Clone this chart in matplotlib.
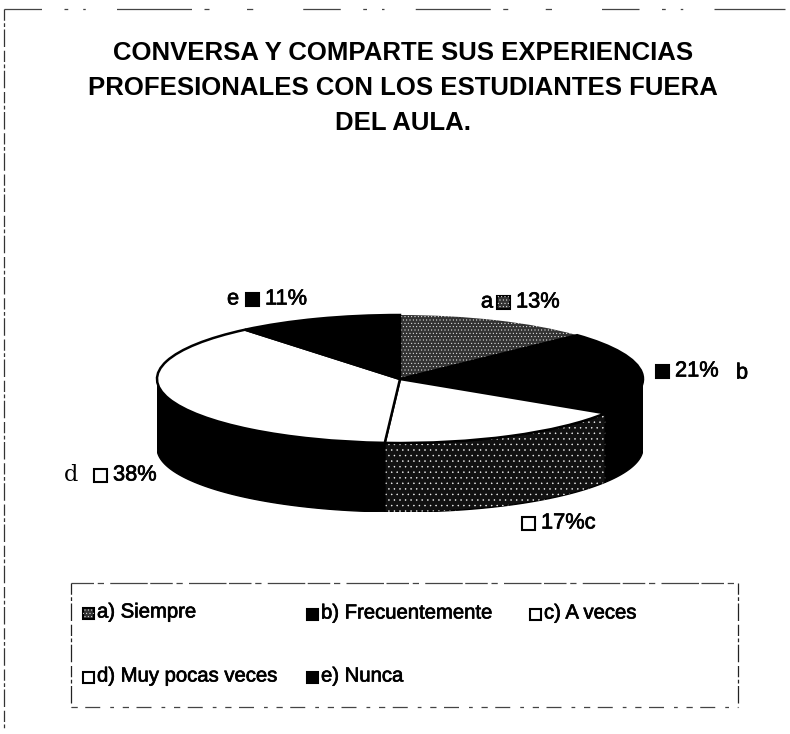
import matplotlib
matplotlib.use("Agg")
import matplotlib.pyplot as plt
import matplotlib.patheffects as pe
import numpy as np
from matplotlib.patches import Polygon, Rectangle

plt.rcParams['font.family'] = ['Liberation Sans', 'DejaVu Sans']
plt.rcParams['hatch.linewidth'] = 0.3

title_lines = ["CONVERSA Y COMPARTE SUS EXPERIENCIAS",
               "PROFESIONALES CON LOS ESTUDIANTES FUERA",
               "DEL AULA."]
valores = [13, 21, 17, 38, 11]
leyenda = ["a) Siempre", "b) Frecuentemente", "c) A veces", "d) Muy pocas veces", "e) Nunca"]
colores_top = ["#333333", "black", "white", "white", "black"]
colores_lado = ["black", "black", "#111111", "black", "black"]

W, H = 790, 734
fig = plt.figure(figsize=(W / 100, H / 100), dpi=100)

# trazo extra para que el texto pese como en el scan
grueso = [pe.withStroke(linewidth=0.5, foreground="black")]

# eje de fondo en pixeles para textos y marcos
bg = fig.add_axes([0, 0, 1, 1])
bg.set_xlim(0, W)
bg.set_ylim(H, 0)
bg.axis("off")

# pastel: elipse rx=243 ry=64 con profundidad 69 px
cx, cy, rx, ry, prof = 400, 379, 243, 64, 69
ax = fig.add_axes([(cx - rx) / W, 1 - (cy + ry + prof) / H, 2 * rx / W, (2 * ry + prof) / H])
ax.patch.set_alpha(0)

# lado del cilindro, solo la parte de adelante
acum = np.cumsum([0] + valores) / sum(valores) * 360
d = prof / ry
for i in range(len(valores)):
    ini = max(acum[i], 90)
    fin = min(acum[i + 1], 270)
    if fin <= ini:
        continue
    th = np.radians(np.linspace(ini, fin, 60))
    xs = np.sin(th)
    ys = np.cos(th)
    pts = np.column_stack([np.r_[xs, xs[::-1]], np.r_[ys, ys[::-1] - d]])
    ax.add_patch(Polygon(pts, closed=True, facecolor=colores_lado[i], edgecolor="black", lw=1))
    if i == 2:
        ax.add_patch(Polygon(pts, closed=True, facecolor="none", edgecolor="white", lw=0, hatch="..."))

wedges, _ = ax.pie(valores, startangle=90, counterclock=False, colors=colores_top,
                   radius=1, wedgeprops={"edgecolor": "black", "linewidth": 1.8})
wedges[0].set_edgecolor("white")
wedges[0].set_linewidth(0)
wedges[0].set_hatch(".....")
ax.set_aspect("auto")
ax.set_xlim(-1, 1)
ax.set_ylim(-1 - d, 1)
ax.axis("off")

# titulo
for linea, y in zip(title_lines, [53, 88, 123]):
    bg.text(403, y, linea, ha="center", va="center", fontsize=18.5, fontweight="bold", color="black")


def cuadro(x, y, color, hatch=None, size=13):
    bg.add_patch(Rectangle((x - size / 2, y - size / 2), size, size, facecolor=color,
                           edgecolor="black", lw=1.5))
    if hatch:
        bg.add_patch(Rectangle((x - size / 2, y - size / 2), size, size, facecolor="none",
                               edgecolor="white", lw=0, hatch=hatch))


# etiquetas de datos
etiq_pos = [(503, 302), (662, 371), (528, 523), (100, 475), (252, 299)]
for i, (x, y) in enumerate(etiq_pos):
    cuadro(x, y, colores_top[i], "....." if i == 0 else None)
    txt = f"{valores[i]}%"
    if i == 2:
        txt += "c"
    bg.text(x + 13, y, txt, ha="left", va="center", fontsize=15.7, path_effects=grueso)
bg.text(487, 302, "a", ha="center", va="center", fontsize=15.7, path_effects=grueso)
bg.text(742, 373, "b", ha="center", va="center", fontsize=15.7, path_effects=grueso)
bg.text(233, 299, "e", ha="center", va="center", fontsize=15.7, path_effects=grueso)
bg.text(71, 475, "d", ha="center", va="center", fontsize=16, family=['DejaVu Serif'])

# leyenda
ley_pos = [(88, 613), (312, 614), (535, 614), (88, 677), (312, 677)]
for i, (x, y) in enumerate(ley_pos):
    cuadro(x, y, colores_top[i], "....." if i == 0 else None, size=11)
    bg.text(x + 9, y - 1, leyenda[i], ha="left", va="center", fontsize=14.6, path_effects=grueso)

# marcos del scan, con trazos cortados
dash = (0, (9, 2, 3, 2, 14, 3))
bg.plot([4, 785], [9, 9], color="#444444", lw=0.9, ls=(0, (30, 18, 3, 12, 2, 25, 60, 10, 4, 30, 5, 40)))
bg.plot([4, 4], [9, 728], color="#333333", lw=0.9, ls=dash)
bg.plot([71, 738], [583, 583], color="#444444", lw=0.9, ls=(0, (18, 3, 5, 5, 30, 2)))
bg.plot([71, 738], [707, 707], color="#444444", lw=0.9, ls=(0, (5, 6, 12, 8, 3, 7)))
bg.plot([71, 71], [583, 707], color="#222222", lw=0.9, ls=dash)
bg.plot([738, 738], [583, 707], color="#222222", lw=0.9, ls=dash)

fig.savefig("out.png", dpi=100, facecolor="white")
